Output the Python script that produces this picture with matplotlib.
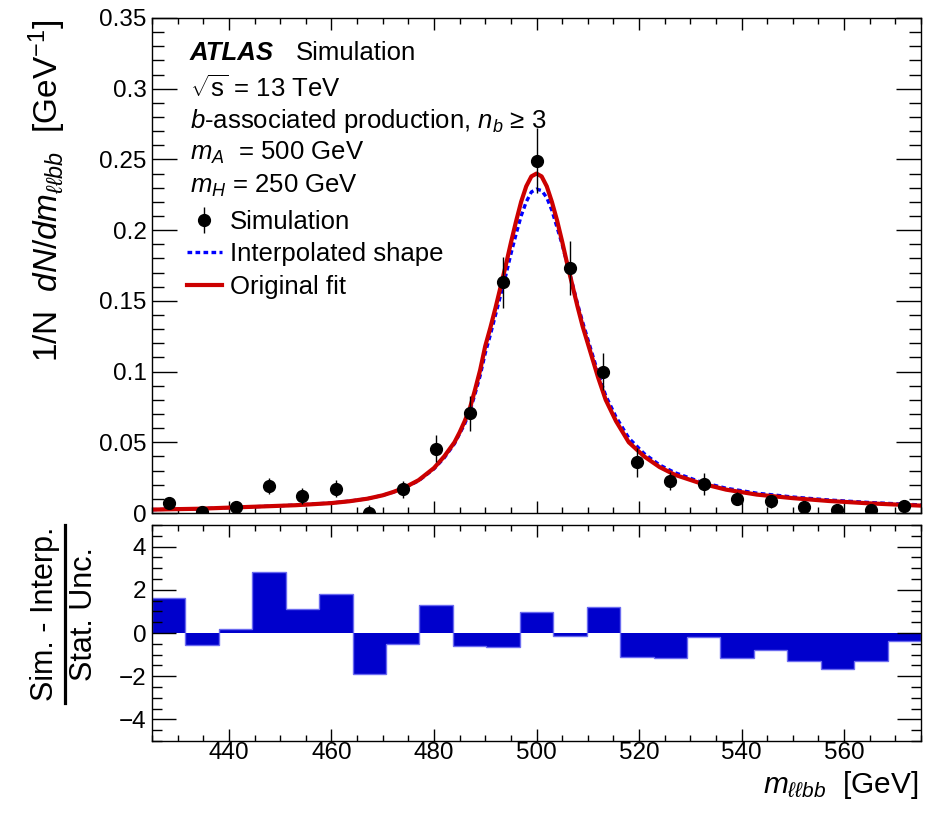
import numpy as np
import matplotlib
matplotlib.use('Agg')
import matplotlib.pyplot as plt
from matplotlib.lines import Line2D
from matplotlib.ticker import MultipleLocator, FormatStrFormatter

plt.rcParams['font.family'] = ['Liberation Sans', 'DejaVu Sans']
plt.rcParams['mathtext.fontset'] = 'custom'
plt.rcParams['mathtext.rm'] = 'Liberation Sans'
plt.rcParams['mathtext.it'] = 'Liberation Sans:italic'
plt.rcParams['mathtext.bf'] = 'Liberation Sans:bold'

# binning: 23 bins from 425 to 575 GeV
m_lo, m_hi, n_bins = 425, 575, 23

# simulation points (normalised) and their stat. uncertainties
sim_y = [0.007, 0.001, 0.004, 0.019, 0.012, 0.017, 0.0, 0.0168, 0.0455, 0.0705,
         0.163, 0.249, 0.173, 0.100, 0.0358, 0.0225, 0.0205, 0.0100, 0.0083,
         0.0042, 0.0019, 0.0024, 0.0047]
sim_err = [0.004, 0.004, 0.004, 0.0055, 0.0055, 0.006, 0.0055, 0.006, 0.0095, 0.0125,
           0.018, 0.023, 0.019, 0.013, 0.010, 0.0065, 0.0077, 0.0045, 0.0045,
           0.003, 0.003, 0.003, 0.003]

# lower panel: (Sim - Interp) / Stat. Unc.
pull = [1.63, -0.54, 0.17, 2.83, 1.12, 1.82, -1.92, -0.51, 1.28, -0.58, -0.63,
        0.95, -0.12, 1.22, -1.11, -1.14, -0.20, -1.14, -0.80, -1.28, -1.66,
        -1.28, -0.37]

# curves
curve_x = [425, 434, 440, 447, 453, 460, 463.5, 467, 470, 472, 474, 477, 480, 482, 484, 485,
           486, 487, 488, 489, 490, 491, 492, 493, 494, 495, 496, 497, 498, 499,
           500, 501, 502, 503, 504, 505, 506, 507, 508, 509, 510, 511, 512,
           513.5, 515.5, 518, 521, 524, 527, 532, 537, 543, 550, 557, 565, 575]
fit_red = [0.0024, 0.0030, 0.0038, 0.0047, 0.0055, 0.0070, 0.0083, 0.0101, 0.0125, 0.0148, 0.0175,
           0.0232, 0.0318, 0.040, 0.050, 0.057, 0.065, 0.074, 0.087, 0.101, 0.118,
           0.131, 0.145, 0.160, 0.175, 0.191, 0.206, 0.220, 0.231, 0.238, 0.240,
           0.238, 0.231, 0.220, 0.207, 0.192, 0.176, 0.161, 0.146, 0.132, 0.120,
           0.108, 0.096, 0.080, 0.065, 0.050, 0.040, 0.0325, 0.027, 0.021, 0.0165,
           0.013, 0.0105, 0.0085, 0.0068, 0.0052]
interp_blue = [0.0024, 0.0030, 0.0038, 0.0047, 0.0056, 0.0071, 0.0084, 0.0101, 0.0125, 0.0147, 0.0173,
               0.0228, 0.0312, 0.039, 0.049, 0.056, 0.063, 0.072, 0.084, 0.097, 0.113,
               0.126, 0.140, 0.154, 0.168, 0.183, 0.197, 0.210, 0.220, 0.227, 0.229,
               0.228, 0.223, 0.214, 0.202, 0.190, 0.176, 0.162, 0.148, 0.135, 0.123,
               0.111, 0.099, 0.083, 0.068, 0.053, 0.042, 0.034, 0.0285, 0.022, 0.0175,
               0.014, 0.0113, 0.0092, 0.0074, 0.0057]

edges = np.linspace(m_lo, m_hi, n_bins + 1)
centers = 0.5 * (edges[1:] + edges[:-1])

W, H = 930, 816
fig = plt.figure(figsize=(W / 100, H / 100), dpi=100)
ax1 = fig.add_axes([152 / W, 1 - 513 / H, 769 / W, 495 / H])
ax2 = fig.add_axes([152 / W, 1 - 741 / H, 769 / W, 216 / H])

TICK = 17.5
for ax in (ax1, ax2):
    ax.set_xlim(m_lo, m_hi)
    ax.xaxis.set_major_locator(MultipleLocator(20))
    ax.xaxis.set_minor_locator(MultipleLocator(5))
    ax.tick_params(which='both', direction='in', top=True, right=True, labelsize=TICK, width=1)
    for s in ax.spines.values():
        s.set_linewidth(1)

# top panel
ax1.plot(curve_x, interp_blue, color='#0000ff', lw=2.4, ls=(0, (1.4, 1.0)), label='Interpolated shape')
ax1.plot(curve_x, fit_red, color='#cc0000', lw=3, label='Original fit')
eb = ax1.errorbar(centers, sim_y, yerr=sim_err, fmt='o', color='black', ms=8.5, elinewidth=1,
                  capsize=0, zorder=5, label='Simulation')
ax1.set_ylim(0, 0.35)
ax1.yaxis.set_major_locator(MultipleLocator(0.05))
ax1.yaxis.set_minor_locator(MultipleLocator(0.01))
ax1.yaxis.set_major_formatter(FormatStrFormatter('%g'))
ax1.tick_params(axis='x', which='major', length=8.6, labelbottom=False)
ax1.tick_params(axis='x', which='minor', length=4.3)
ax1.tick_params(axis='y', which='major', length=18, pad=4)
ax1.tick_params(axis='y', which='minor', length=8.6)

h, l = ax1.get_legend_handles_labels()
order = [l.index('Simulation'), l.index('Interpolated shape'), l.index('Original fit')]
ax1.legend([h[i] for i in order], [l[i] for i in order], loc='upper left',
           bbox_to_anchor=(187 / W, 1 - 210 / H), bbox_transform=fig.transFigure,
           frameon=False, fontsize=18.5, handlelength=1.36, handletextpad=0.31,
           labelspacing=0.33, borderpad=0, borderaxespad=0)

TXT = 18.5
fig.text(190 / W, 1 - 60 / H, 'ATLAS', fontsize=TXT, fontweight='bold', style='italic', va='baseline')
fig.text(296 / W, 1 - 60 / H, 'Simulation', fontsize=TXT, va='baseline')
fig.text(190 / W, 1 - 97 / H, r'$\sqrt{\mathrm{s}}$ = 13 TeV', fontsize=TXT, va='baseline')
fig.text(190 / W, 1 - 128 / H, r'$b$-associated production, $n_b$ ≥ 3', fontsize=TXT, va='baseline')
fig.text(190 / W, 1 - 160 / H, r'$m_A$  = 500 GeV', fontsize=TXT, va='baseline')
fig.text(190 / W, 1 - 193 / H, r'$m_H$ = 250 GeV', fontsize=TXT, va='baseline')

fig.text(47 / W, 1 - 20 / H, r'1/N  $dN/dm_{\ell\ell bb}$  [GeV$^{-1}$]', fontsize=24,
         rotation=90, ha='center', va='top')

# bottom panel
ax2.stairs(pull, edges, baseline=0, fill=True, color='#0000cc')
ax2.stairs(pull, edges, baseline=0, fill=False, color='#6b6bf0', lw=1)
ax2.set_ylim(-5, 5)
ax2.yaxis.set_minor_locator(MultipleLocator(0.5))
ax2.set_yticks([-4, -2, 0, 2, 4])
ax2.tick_params(axis='x', which='major', length=8.6, pad=1)
ax2.tick_params(axis='x', which='minor', length=4.3)
ax2.tick_params(axis='y', which='major', length=17, pad=4)
ax2.tick_params(axis='y', which='minor', length=7.5)

fig.text(918 / W, 1 - 793 / H, r'$m_{\ell\ell bb}$  [GeV]', fontsize=21.5, ha='right', va='baseline')

fig.text(45 / W, 1 - 614 / H, 'Sim. - Interp.', fontsize=22, rotation=90, ha='center', va='center')
fig.text(84 / W, 1 - 614 / H, 'Stat. Unc.', fontsize=22, rotation=90, ha='center', va='center')
fig.add_artist(Line2D([64.5 / W, 64.5 / W], [1 - 525 / H, 1 - 703 / H], color='black', lw=2.3,
                      transform=fig.transFigure))

fig.savefig('out.png', dpi=100)
